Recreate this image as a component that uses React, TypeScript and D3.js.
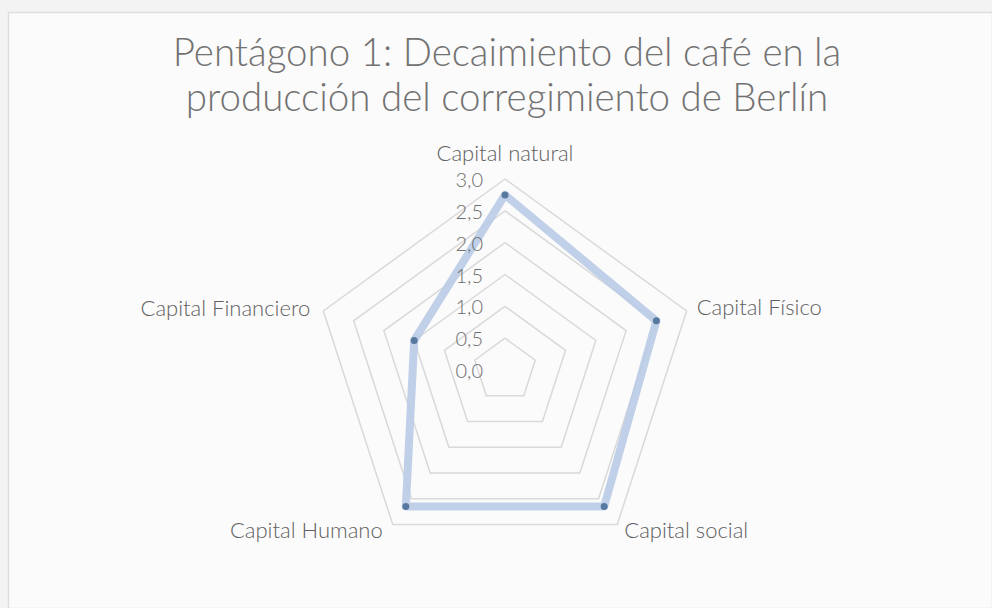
import React, { useEffect, useRef } from 'react';
import * as d3 from 'd3';

const categories = ['Capital natural', 'Capital Físico', 'Capital social', 'Capital Humano', 'Capital Financiero'];
const values = [2.75, 2.5, 2.65, 2.65, 1.5];
const ticks = [0, 0.5, 1.0, 1.5, 2.0, 2.5, 3.0];
const titleLines = ['Pentágono 1: Decaimiento del café en la', 'producción del corregimiento de Berlín'];

const App = () => {
	const chartRef = useRef<HTMLDivElement>(null);

	useEffect(() => {
		if (!chartRef.current) return;
		const width = 992;
		const height = 608;
		const cx = 505;
		const cy = 370;
		const radius = 191;
		const font = 'Lato, "Open Sans", sans-serif';

		d3.select(chartRef.current).selectAll('*').remove();

		const svg = d3
			.select(chartRef.current)
			.append('svg')
			.attr('width', width)
			.attr('height', height)
			.style('display', 'block');

		// background + frame
		svg.append('rect').attr('width', width).attr('height', height).attr('fill', '#f3f3f3');
		svg.append('rect')
			.attr('x', 8.5).attr('y', 12.5)
			.attr('width', width - 8).attr('height', height - 12)
			.attr('fill', '#fbfbfb')
			.attr('stroke', '#dedede')
			.attr('stroke-width', 1.5);

		svg.append('g')
			.selectAll('text')
			.data(titleLines)
			.join('text')
			.attr('x', 507)
			.attr('y', (d, i) => 66 + i * 45)
			.attr('text-anchor', 'middle')
			.style('font-family', font)
			.style('font-size', '38.5px')
			.style('font-weight', 300)
			.attr('fill', '#727272')
			.text(d => d);

		const r = d3.scaleLinear().domain([0, 3]).range([0, radius]);
		const angle = d3.scaleLinear().domain([0, categories.length]).range([0, 2 * Math.PI]);
		const pt = (i: number, v: number): [number, number] => [
			cx + r(v) * Math.sin(angle(i)),
			cy - r(v) * Math.cos(angle(i)),
		];

		const g = svg.append('g');

		// rings
		ticks.filter(t => t > 0).forEach(t => {
			const pts = categories.map((c, i) => pt(i, t));
			g.append('path')
				.attr('d', d3.line()(pts.concat([pts[0]])))
				.attr('fill', 'none')
				.attr('stroke', '#d9d9d9')
				.attr('stroke-width', 1.5);
		});

		// series line
		const dataPts = values.map((v, i) => pt(i, v));
		const line = d3.line().curve(d3.curveLinearClosed);
		g.append('path')
			.attr('d', line(dataPts))
			.attr('fill', 'none')
			.attr('stroke', '#b9cbe6')
			.attr('stroke-width', 8)
			.attr('stroke-linejoin', 'round')
			.attr('opacity', 0.9);

		g.selectAll('circle')
			.data(dataPts)
			.join('circle')
			.attr('cx', d => d[0])
			.attr('cy', d => d[1])
			.attr('r', 3.5)
			.attr('fill', '#58799f');

		// tick labels
		g.selectAll('text.tick')
			.data(ticks)
			.join('text')
			.attr('class', 'tick')
			.attr('x', cx - 22)
			.attr('y', d => cy - r(d))
			.attr('dy', '0.4em')
			.attr('text-anchor', 'end')
			.style('font-family', font)
			.style('font-size', '20px')
			.style('font-weight', 300)
			.attr('fill', '#6e6e6e')
			.text(d => d3.format('.1f')(d).replace('.', ','));

		// category labels
		const labelPos = [
			{ dx: 0, dy: -18, anchor: 'middle' },
			{ dx: 10, dy: 4, anchor: 'start' },
			{ dx: 7, dy: 13, anchor: 'start' },
			{ dx: -10, dy: 13, anchor: 'end' },
			{ dx: -13, dy: 5, anchor: 'end' },
		];
		g.selectAll('text.cat')
			.data(categories)
			.join('text')
			.attr('class', 'cat')
			.attr('x', (d, i) => pt(i, 3)[0] + labelPos[i].dx)
			.attr('y', (d, i) => pt(i, 3)[1] + labelPos[i].dy)
			.attr('text-anchor', (d, i) => labelPos[i].anchor)
			.style('font-family', font)
			.style('font-size', '22px')
			.style('font-weight', 300)
			.attr('fill', '#606060')
			.text(d => d);
	}, []);

	return <div ref={chartRef} style={{ position: 'absolute', left: 0, top: 0 }}></div>;
};

export default App;
